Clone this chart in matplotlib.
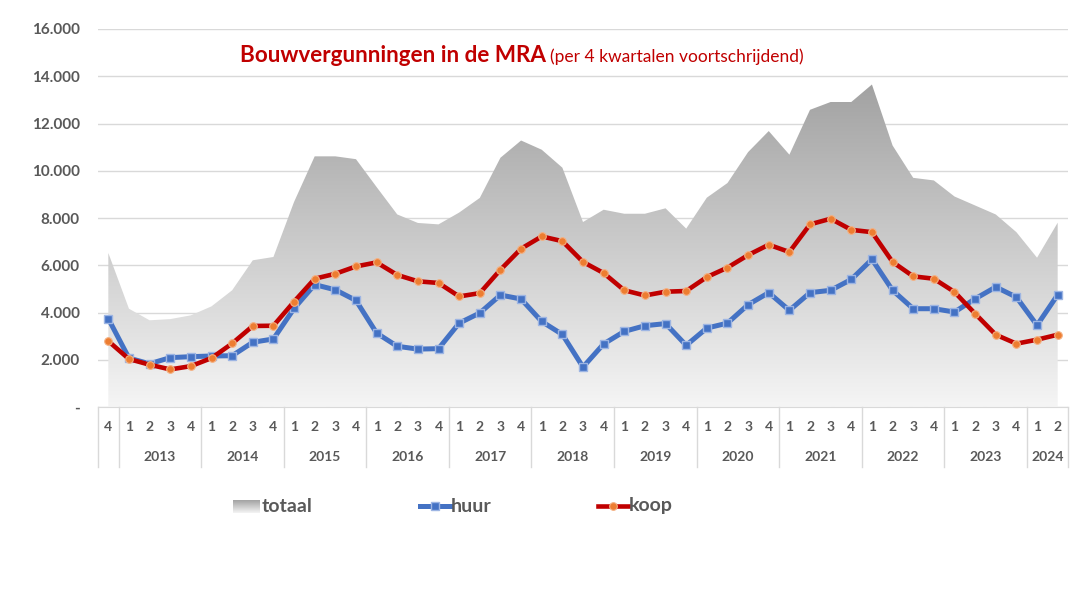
import numpy as np
import matplotlib
matplotlib.use("Agg")
import matplotlib.pyplot as plt
from matplotlib.patches import Polygon
from matplotlib.lines import Line2D
from matplotlib.colors import LinearSegmentedColormap
import matplotlib.transforms as mtransforms

plt.rcParams['font.family'] = ['Lato', 'DejaVu Sans']

# kwartalen: 2012 K4 t/m 2024 K2
years = [2012] + [y for y in range(2013, 2024) for _ in range(4)] + [2024, 2024]
quarters = [4] + [1, 2, 3, 4] * 11 + [1, 2]

totaal = [6520, 4160, 3670, 3720, 3880, 4260, 4940, 6210, 6350, 8680,
          10610, 10610, 10490, 9310, 8150, 7790, 7730, 8230, 8850, 10550,
          11280, 10890, 10130, 7830, 8350, 8180, 8180, 8410, 7550, 8860,
          9480, 10790, 11680, 10680, 12580, 12910, 12910, 13650, 11070, 9700,
          9590, 8910, 8530, 8150, 7400, 6320, 7800]
huur = [3740, 2070, 1830, 2090, 2130, 2160, 2170, 2740, 2880, 4170,
        5180, 4960, 4510, 3130, 2570, 2450, 2470, 3550, 3980, 4740,
        4570, 3620, 3070, 1690, 2670, 3200, 3440, 3530, 2610, 3340,
        3550, 4330, 4840, 4090, 4840, 4940, 5400, 6250, 4940, 4160,
        4160, 4020, 4580, 5080, 4650, 3460, 4750]
koop = [2790, 2030, 1790, 1590, 1730, 2070, 2690, 3430, 3440, 4460,
        5430, 5640, 5950, 6120, 5590, 5320, 5250, 4680, 4820, 5810,
        6700, 7220, 7020, 6140, 5670, 4940, 4720, 4880, 4910, 5500,
        5900, 6430, 6870, 6560, 7730, 7970, 7500, 7400, 6140, 5530,
        5430, 4870, 3950, 3060, 2680, 2850, 3060]

W, H = 1090, 593
grey = '#595959'
red = '#C00000'
blue = '#4472C4'

fig = plt.figure(figsize=(W / 100, H / 100), dpi=100)
ax = fig.add_axes([98 / W, 186 / H, 970 / W, 378 / H])

x = np.arange(len(totaal))
ax.set_xlim(-0.5, len(totaal) - 0.5)
ax.set_ylim(0, 16000)

# totaal: vlak met verloop
cmap = LinearSegmentedColormap.from_list('grijs', ['#f5f5f5', '#a2a2a2'])
verts = [(x[0], 0)] + list(zip(x, totaal)) + [(x[-1], 0)]
poly = Polygon(verts, facecolor='none', edgecolor='none')
ax.add_patch(poly)
grad = np.linspace(0, 1, 256).reshape(-1, 1)
im = ax.imshow(grad, extent=[x[0], x[-1], 0, max(totaal)], origin='lower',
               aspect='auto', cmap=cmap, zorder=1)
im.set_clip_path(poly)

ax.plot(x, huur, color=blue, lw=3.6, marker='s', ms=6, mfc=blue,
        mec='#9DB5E3', mew=1, zorder=3)
ax.plot(x, koop, color=red, lw=3.3, marker='o', ms=5.5, mfc='#ED7D31',
        mec='#F4B183', mew=0.8, zorder=4)

# y-as
ax.set_yticks(range(0, 16001, 2000))
ax.set_yticklabels(['-' if v == 0 else f"{v:,}".replace(',', '.')
                    for v in range(0, 16001, 2000)])
ax.tick_params(axis='y', length=0, pad=13, labelsize=11, labelcolor=grey)
for t in ax.get_yticklabels():
    t.set_fontweight('bold')
ax.yaxis.grid(True, color='#d9d9d9', lw=1)
ax.set_axisbelow(True)
for s in ['top', 'right', 'left']:
    ax.spines[s].set_visible(False)
ax.spines['bottom'].set_color('#d9d9d9')

# x-as met twee niveaus
ax.set_xticks([])
trans = mtransforms.blended_transform_factory(ax.transData, ax.transAxes)
for xi, q in zip(x, quarters):
    ax.text(xi, -0.053, str(q), transform=trans, ha='center', va='center',
            fontsize=10, fontweight='bold', color=grey)
for yr in sorted(set(years)):
    idx = [i for i, y in enumerate(years) if y == yr]
    lo, hi = idx[0] - 0.5, idx[-1] + 0.5
    ax.add_line(Line2D([lo, lo], [0, -0.159], transform=trans, color='#d9d9d9',
                       lw=1, clip_on=False))
    if yr != 2012:
        ax.text((lo + hi) / 2, -0.132, str(yr), transform=trans, ha='center',
                va='center', fontsize=10, fontweight='bold', color=grey)
ax.add_line(Line2D([hi, hi], [0, -0.159], transform=trans, color='#d9d9d9',
                   lw=1, clip_on=False))

# titel
fig.text(240 / W, 1 - 62 / H, 'Bouwvergunningen in de MRA', fontsize=16.2,
         fontweight='bold', color=red, va='baseline')
fig.text(550 / W, 1 - 62 / H, '(per 4 kwartalen voortschrijdend)', fontsize=12.5,
         color=red, va='baseline')

# legenda
ly = 1 - 506 / H
lax = fig.add_axes([233 / W, 1 - 513 / H, 27 / W, 13 / H])
lax.imshow(grad, origin='lower', aspect='auto', cmap=cmap)
lax.axis('off')
fig.text(262 / W, ly, 'totaal', fontsize=14, fontweight='bold', color=grey,
         va='center')
fig.add_artist(Line2D([420 / W, 450 / W], [ly, ly], color=blue, lw=3.6))
fig.add_artist(Line2D([435 / W], [ly], marker='s', ms=6, mfc=blue,
                      mec='#9DB5E3', mew=1))
fig.text(451 / W, ly, 'huur', fontsize=14, fontweight='bold', color=grey,
         va='center')
fig.add_artist(Line2D([598 / W, 628 / W], [ly, ly], color=red, lw=3.3))
fig.add_artist(Line2D([613 / W], [ly], marker='o', ms=5.5, mfc='#ED7D31',
                      mec='#F4B183', mew=0.8))
fig.text(629 / W, ly, 'koop', fontsize=14, fontweight='bold', color=grey,
         va='center')

fig.savefig('out.png', dpi=100)
